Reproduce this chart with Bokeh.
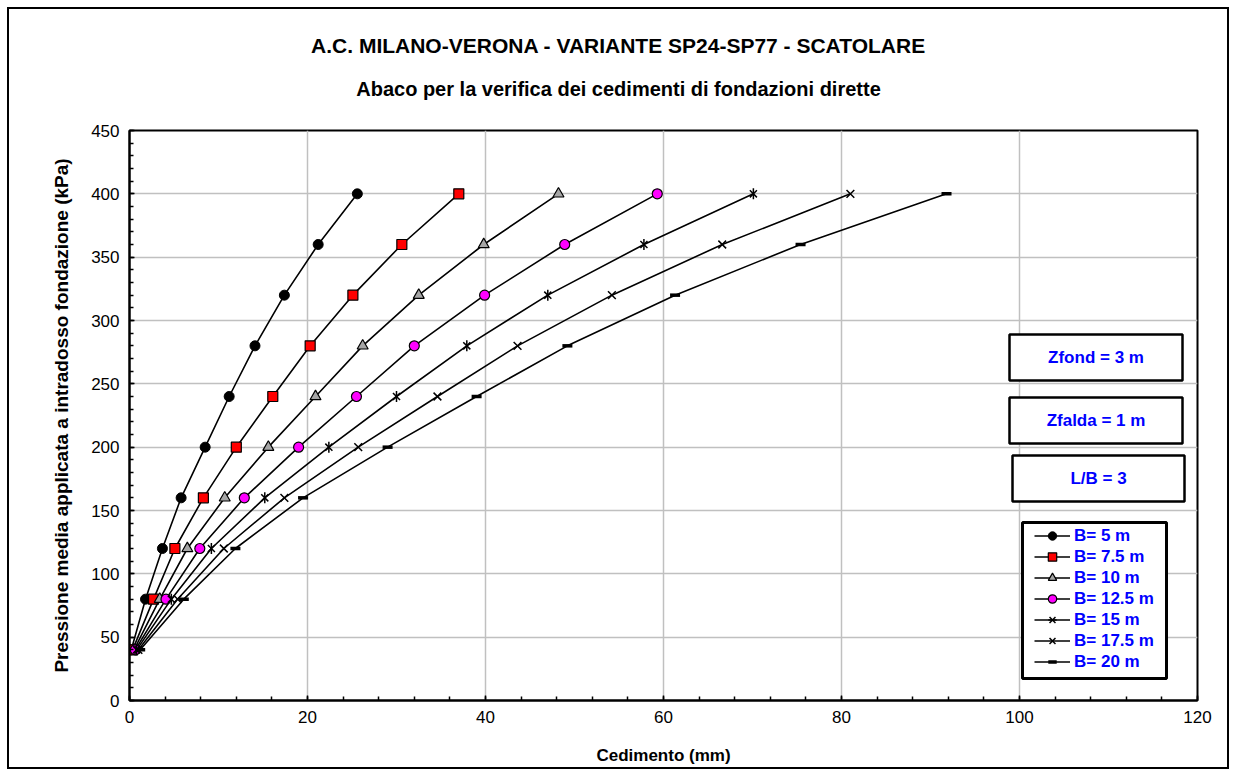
import numpy as np
from bokeh.plotting import figure
from bokeh.layouts import column
from bokeh.models import Range1d, FixedTicker, Label, BoxAnnotation, Legend, LegendItem
from bokeh.embed import file_html
from bokeh.resources import INLINE

# ---------------- data ----------------
pressure = [40, 80, 120, 160, 200, 240, 280, 320, 360, 400]          # kPa
sett_B5 = [0.2, 1.8, 3.7, 5.8, 8.5, 11.2, 14.1, 17.4, 21.2, 25.6]     # mm
sett_B7_5 = [0.35, 2.7, 5.1, 8.3, 12.0, 16.1, 20.3, 25.1, 30.6, 37.0]
sett_B10 = [0.5, 3.4, 6.5, 10.7, 15.6, 20.9, 26.2, 32.5, 39.8, 48.2]
sett_B12_5 = [0.65, 4.1, 7.9, 12.9, 19.0, 25.5, 32.0, 39.9, 48.9, 59.3]
sett_B15 = [0.8, 4.7, 9.2, 15.2, 22.4, 30.0, 37.9, 47.0, 57.8, 70.1]
sett_B17_5 = [1.0, 5.4, 10.6, 17.4, 25.7, 34.6, 43.6, 54.2, 66.6, 81.0]
sett_B20 = [1.2, 6.1, 11.9, 19.5, 29.0, 39.0, 49.2, 61.3, 75.4, 91.8]

series_names = ["B= 5 m", "B= 7.5 m", "B= 10 m", "B= 12.5 m", "B= 15 m", "B= 17.5 m", "B= 20 m"]
x_ticks = [0, 20, 40, 60, 80, 100, 120]
x_minor = list(range(0, 121, 4))
y_ticks = [0, 50, 100, 150, 200, 250, 300, 350, 400, 450]
y_minor = list(range(0, 451, 10))

title_text = "A.C. MILANO-VERONA - VARIANTE SP24-SP77 - SCATOLARE"
subtitle_text = "Abaco per la verifica dei cedimenti di fondazioni dirette"
info_texts = ["Zfond = 3 m", "Zfalda = 1 m", "L/B = 3"]

FONT = "Liberation Sans"
BLUE = "#0000FF"

# ---------------- layout (page pixels) ----------------
W = 1236
TOP_H = 105                 # title strip height
TOTAL_H = 776
MAIN_H = TOTAL_H - TOP_H
FL, FR, FT, FB = 129, 1197, 130, 700     # plot frame in page pixels
X0, X1, Y0, Y1 = 0, 120, 0, 450


def dx(px):
    return X0 + (px - FL) / (FR - FL) * (X1 - X0)


def dy(py):
    return Y0 + (FB - py) / (FB - FT) * (Y1 - Y0)


# ---------------- title strip ----------------
top = figure(width=W, height=TOP_H, x_range=Range1d(FL, FR), y_range=Range1d(TOP_H, 0),
             x_axis_type=None, y_axis_type=None, output_backend="svg", toolbar_location=None,
             min_border_left=FL, min_border_right=W - FR, min_border_top=0, min_border_bottom=0,
             background_fill_color=None, border_fill_color=None)
top.outline_line_color = None
top.add_layout(Label(x=618, y=45, text=title_text, text_align="center", text_baseline="middle",
                     text_font=FONT, text_font_size="21px", text_font_style="bold", text_color="black"))
top.add_layout(Label(x=618, y=88, text=subtitle_text, text_align="center", text_baseline="middle",
                     text_font=FONT, text_font_size="20px", text_font_style="bold", text_color="black"))

# ---------------- main plot ----------------
p = figure(width=W, height=MAIN_H, x_range=Range1d(X0, X1), y_range=Range1d(Y0, Y1),
           output_backend="svg", toolbar_location=None,
           min_border_left=FL, min_border_right=W - FR,
           min_border_top=FT - TOP_H, min_border_bottom=TOTAL_H - FB,
           background_fill_color="white", border_fill_color=None)

p.outline_line_color = "black"
p.outline_line_width = 2

p.xaxis.ticker = FixedTicker(ticks=x_ticks, minor_ticks=x_minor)
p.yaxis.ticker = FixedTicker(ticks=y_ticks, minor_ticks=y_minor)
p.xgrid.ticker = FixedTicker(ticks=x_ticks)
p.ygrid.ticker = FixedTicker(ticks=y_ticks)
for g in (p.xgrid[0], p.ygrid[0]):
    g.grid_line_color = "#c0c0c0"
    g.grid_line_width = 1.5

p.xaxis.axis_label = "Cedimento (mm)"
p.yaxis.axis_label = "Pressione media applicata a intradosso fondazione (kPa)"
for ax in (p.xaxis[0], p.yaxis[0]):
    ax.axis_line_width = 2
    ax.axis_line_color = "black"
    ax.major_tick_in = 5
    ax.major_tick_out = 0
    ax.minor_tick_in = 4
    ax.minor_tick_out = 0
    ax.major_tick_line_width = 1.5
    ax.minor_tick_line_width = 1.5
    ax.major_label_text_font = FONT
    ax.major_label_text_font_size = "17px"
    ax.major_label_text_color = "black"
    ax.axis_label_text_font = FONT
    ax.axis_label_text_font_style = "bold"
    ax.axis_label_text_color = "black"
p.xaxis.axis_label_text_font_size = "17px"
p.yaxis.axis_label_text_font_size = "19px"
p.xaxis.major_label_standoff = 10
p.xaxis.axis_label_standoff = 20
p.yaxis.major_label_standoff = 10
p.yaxis.axis_label_standoff = 16

# ---------------- series ----------------
series = [sett_B5, sett_B7_5, sett_B10, sett_B12_5, sett_B15, sett_B17_5, sett_B20]
styles = [
    [dict(marker="circle", size=10, fill_color="black", line_color="black", line_width=1)],
    [dict(marker="square", size=10, fill_color="#ff0000", line_color="black", line_width=1.2)],
    [dict(marker="triangle", size=11, fill_color="#a6a6a6", line_color="black", line_width=1.2)],
    [dict(marker="circle", size=10, fill_color="#ff00ff", line_color="black", line_width=1.2)],
    [dict(marker="x", size=10, line_color="black", line_width=1.5),
     dict(marker="dash", size=11, angle=np.pi / 2, line_color="black", line_width=1.5)],
    [dict(marker="x", size=11, line_color="black", line_width=1.5)],
    [dict(marker="dash", size=10, line_color="black", line_width=3.5)],
]

items = []
for name, xs, st in zip(series_names, series, styles):
    rl = p.line(xs, pressure, line_color="black", line_width=1.6)
    rs = [rl]
    for s in st:
        rs.append(p.scatter(xs, pressure, **s))
    items.append(LegendItem(label=name, renderers=rs))

# ---------------- info boxes ----------------
boxes = [(1009, 1182, 334, 380), (1009, 1182, 397, 443), (1012, 1184, 455, 501)]
for (l, r, t, b), txt in zip(boxes, info_texts):
    p.add_layout(BoxAnnotation(left=dx(l), right=dx(r), top=dy(t), bottom=dy(b),
                               fill_color="white", fill_alpha=1, line_color="black",
                               line_width=2.5, line_alpha=1))
    p.add_layout(Label(x=dx((l + r) / 2), y=dy((t + b) / 2), text=txt, text_align="center",
                       text_baseline="middle", text_font=FONT, text_font_size="17px",
                       text_font_style="bold", text_color=BLUE))

# ---------------- legend ----------------
p.add_layout(BoxAnnotation(left=dx(1022), right=dx(1166), top=dy(522), bottom=dy(678),
                           fill_color="white", fill_alpha=1, line_color="black",
                           line_width=3, line_alpha=1))
legend = Legend(items=items, location=(1030 - FL, FB - 676),
                padding=4, margin=0, spacing=0, glyph_width=36, glyph_height=21,
                label_height=21, label_standoff=4,
                label_text_font=FONT, label_text_font_size="17px", label_text_font_style="bold",
                label_text_color=BLUE, border_line_alpha=0, background_fill_alpha=0)
p.add_layout(legend, "center")

page = column(top, p, spacing=0)
# outer chart border (drawn 7..9 px inside the page edges, behind the transparent canvases)
page.styles = {"box-shadow": "inset 0 0 0 7px white, inset 0 0 0 9px black",
               "background-color": "white"}

open("out.html", "w").write(file_html(page, INLINE))
